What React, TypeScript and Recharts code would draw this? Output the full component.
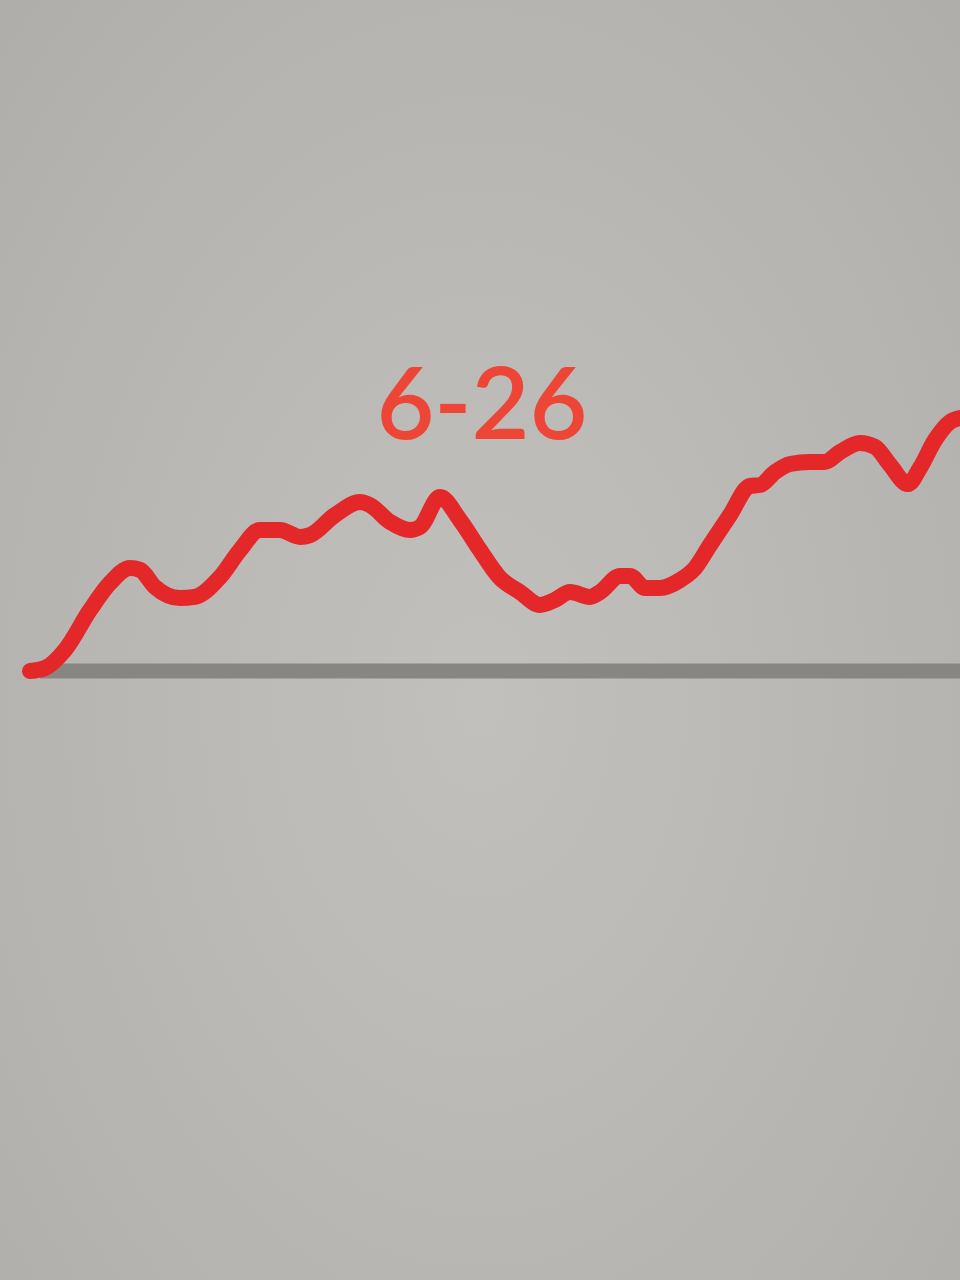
import React from 'react';
import { LineChart, Line, XAxis, YAxis, ReferenceLine } from 'recharts';

// time positions and values
const TIMES = [
    3, 4.5, 6.5, 9, 11, 13, 14, 15.5, 18, 19.5, 22, 24, 26, 28, 30, 31, 33.5, 36, 37, 39, 41, 42, 44, 46,
    48, 50, 52, 54, 55.5, 57, 59, 60, 62, 63, 64.5, 66, 68, 69.5, 71, 73, 75, 76, 77.5, 79, 81, 82.5, 84,
    86, 87.5, 89, 90.8, 92, 93.5, 95, 96,
];
const VALUES = [
    0, 1, 7, 20.3, 29.3, 34.3, 33.7, 28, 24.3, 24.7, 31.3, 40.3, 47, 47, 44.7, 45.3, 52, 56.3, 55.3, 49.7,
    47, 48, 58, 50.3, 40.3, 31, 26.3, 22, 23.7, 26.3, 24.7, 26.3, 31.7, 31.7, 27.7, 27.7, 30.3, 34.3, 42,
    52, 61.7, 62, 66.3, 69, 69.7, 69.7, 73, 76, 74.7, 68.7, 62.3, 67.7, 77, 83, 84.3,
];
const TITLE = '6-26';

const data = TIMES.map((t, i) => ({ t, v: VALUES[i] }));

export default function App() {
    return (
        <div
            style={{
                position: 'absolute',
                top: 0,
                left: 0,
                width: 960,
                height: 1280,
                overflow: 'hidden',
                background: 'radial-gradient(ellipse at 50% 55%, #c1c0bc 0%, #b8b7b3 55%, #afaeaa 100%)',
            }}
        >
            <div
                style={{
                    position: 'absolute',
                    left: 0,
                    top: 350,
                    width: 964,
                    textAlign: 'center',
                    fontFamily: 'Lato, sans-serif',
                    fontWeight: 600,
                    fontSize: 100,
                    lineHeight: '100px',
                    color: '#ee4636',
                }}
            >
                {TITLE}
            </div>
            <div style={{ position: 'absolute', left: 0, top: 371 }}>
                <LineChart width={960} height={330} data={data} margin={{ top: 0, right: 0, bottom: 0, left: 0 }}>
                    <XAxis dataKey="t" type="number" domain={[0, 96]} hide />
                    <YAxis type="number" domain={[-10, 100]} hide />
                    <ReferenceLine
                        segment={[{ x: 4, y: 0 }, { x: 96, y: 0 }]}
                        stroke="#878682"
                        strokeWidth={15}
                    />
                    <Line
                        type="monotone"
                        dataKey="v"
                        stroke="#e4282a"
                        strokeWidth={16}
                        strokeLinecap="round"
                        strokeLinejoin="round"
                        dot={false}
                        isAnimationActive={false}
                    />
                </LineChart>
            </div>
        </div>
    );
}
